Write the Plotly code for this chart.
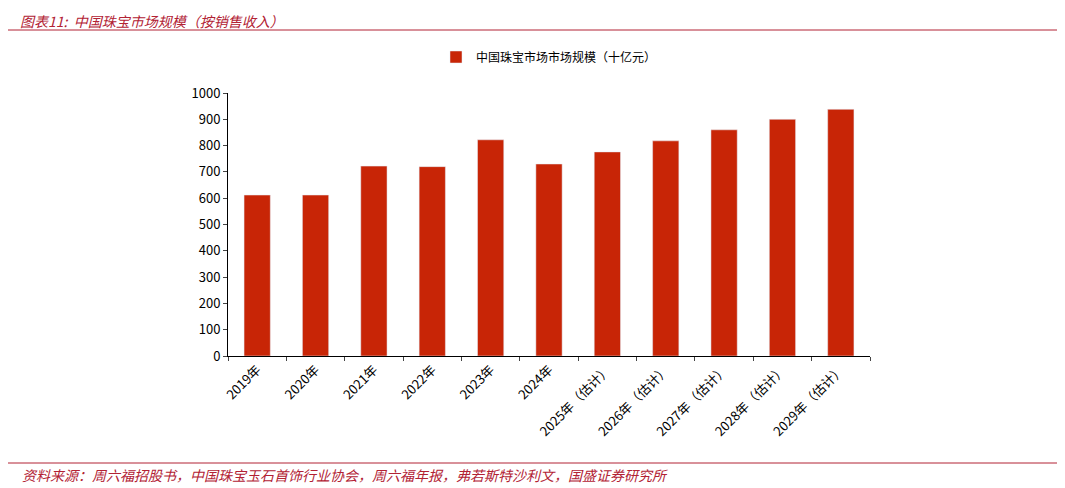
import plotly.graph_objects as go

years = ["2019年", "2020年", "2021年", "2022年", "2023年", "2024年",
         "2025年（估计）", "2026年（估计）", "2027年（估计）", "2028年（估计）", "2029年（估计）"]
market_size = [612, 612, 722, 720, 822, 730, 776, 818, 860, 900, 938]

BAR_RED = "#c82506"
TITLE_RED = "#b22234"
FONT = "Noto Sans CJK SC"

fig = go.Figure()
fig.add_trace(go.Bar(
    x=years, y=market_size, name="中国珠宝市场市场规模（十亿元）",
    marker_color=BAR_RED,
))

fig.update_layout(
    width=1065, height=488,
    paper_bgcolor="white", plot_bgcolor="white",
    font=dict(family=FONT, size=13, color="black"),
    margin=dict(l=220, r=203, t=85, b=140),
    showlegend=True,
    legend=dict(orientation="h", x=0.5, xanchor="center", y=1 + 36 / 263, yanchor="middle",
                font=dict(size=12)),
    bargap=0.55,
)
fig.update_yaxes(range=[0, 1000], dtick=100, showline=True, linecolor="black",
                 ticks="outside", ticklen=4, showgrid=False, zeroline=False)
fig.update_xaxes(showline=True, linecolor="black", ticks="outside", ticklen=4,
                 tickangle=-45, tickson="boundaries")

fig.add_annotation(xref="paper", yref="paper", x=-210 / 642, y=1 + 72 / 263, xanchor="left", yanchor="middle",
                   text="<i>图表11:  中国珠宝市场规模（按销售收入）</i>", showarrow=False,
                   font=dict(size=14, color=TITLE_RED))
fig.add_annotation(xref="paper", yref="paper", x=-208 / 642, y=-119 / 263, xanchor="left", yanchor="middle",
                   text="<i>资料来源：周六福招股书，中国珠宝玉石首饰行业协会，周六福年报，弗若斯特沙利文，国盛证券研究所</i>",
                   showarrow=False, font=dict(size=14, color=TITLE_RED))
fig.add_shape(type="line", xref="paper", yref="paper", x0=-220 / 642, x1=832 / 642,
              y0=1 + 63 / 263, y1=1 + 63 / 263, line=dict(color=TITLE_RED, width=1))
fig.add_shape(type="line", xref="paper", yref="paper", x0=-220 / 642, x1=832 / 642,
              y0=-107 / 263, y1=-107 / 263, line=dict(color=TITLE_RED, width=1))

fig.write_html("out.html")
